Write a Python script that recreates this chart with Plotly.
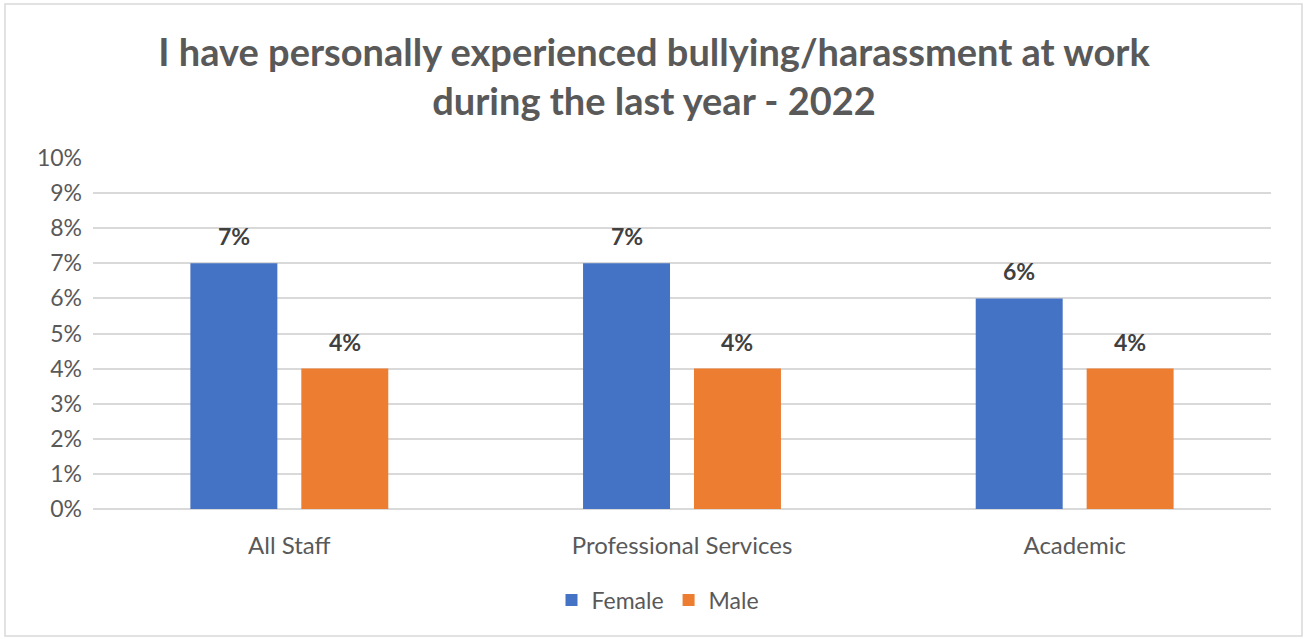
import plotly.graph_objects as go

categories = ["All Staff", "Professional Services", "Academic"]
female = [7, 7, 6]
male = [4, 4, 4]
y_ticks = list(range(0, 11))

BLUE = "#4472c4"
ORANGE = "#ed7d31"
TEXT = "#595959"
FONT = "Lato, 'Open Sans', sans-serif"

W, H = 1306, 639
ML, MR, MT, MB = 93, 35, 158, 130
plot_w = W - ML - MR
plot_h = H - MT - MB

fig = go.Figure()
fig.add_trace(go.Bar(name="Female", x=categories, y=female, marker_color=BLUE,
                     marker_line_width=0))
fig.add_trace(go.Bar(name="Male", x=categories, y=male, marker_color=ORANGE,
                     marker_line_width=0))

# value labels above each bar, offset to the centre of its bar slot
bargap = 0.435
slot = plot_w / len(categories) * (1 - bargap) / 2
annotations = []
for series, shift in ((female, -slot / 2), (male, slot / 2)):
    for cat, val in zip(categories, series):
        annotations.append(dict(
            x=cat, y=val, xref="x", yref="y", text=f"<b>{val}%</b>",
            showarrow=False, xshift=shift, yshift=27, yanchor="middle",
            font=dict(family=FONT, size=23, color="#404040")))

# outer chart border
def px_x(v):
    return (v - ML) / plot_w

def px_y(v):
    return (H - MB - v) / plot_h

fig.add_shape(type="rect", xref="paper", yref="paper",
              x0=px_x(5), x1=px_x(1302), y0=px_y(636), y1=px_y(4),
              line=dict(color="#d9d9d9", width=1.5), fillcolor="rgba(0,0,0,0)",
              layer="below")

fig.update_layout(
    width=W, height=H,
    margin=dict(l=ML, r=MR, t=MT, b=MB),
    paper_bgcolor="white", plot_bgcolor="white",
    barmode="group", bargap=bargap, bargroupgap=0.216,
    title=dict(
        text="<b>I have personally experienced bullying/harassment at work<br>during the last year - 2022</b>",
        x=654 / W, xref="container", xanchor="center",
        y=1 - 66 / H, yref="container", yanchor="middle",
        font=dict(family=FONT, size=38, color=TEXT)),
    font=dict(family=FONT, color=TEXT),
    xaxis=dict(showgrid=False, showline=False, ticks="", ticklabelstandoff=20,
               tickfont=dict(family=FONT, size=24, color=TEXT)),
    yaxis=dict(range=[0, 10], tickvals=y_ticks,
               ticktext=[f"{v}%" for v in y_ticks],
               showgrid=True, gridcolor="#d9d9d9", gridwidth=1.5,
               zeroline=True, zerolinecolor="#d9d9d9", zerolinewidth=1.5,
               showline=False, ticks="", ticklabelstandoff=10,
               tickfont=dict(family=FONT, size=23, color=TEXT)),
    legend=dict(orientation="h", x=658 / W, xanchor="center", xref="container",
                y=1 - 600 / H, yref="container", yanchor="middle",
                font=dict(family=FONT, size=23, color=TEXT),
                itemwidth=30, traceorder="normal"),
    annotations=annotations,
)

fig.write_html("out.html")
